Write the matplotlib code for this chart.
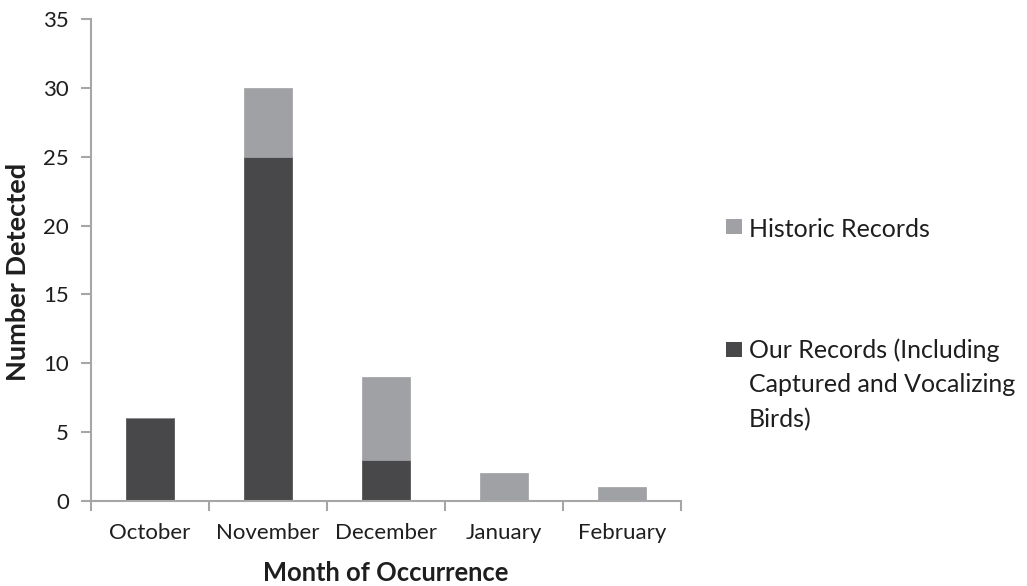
import matplotlib
matplotlib.use("Agg")
import matplotlib.pyplot as plt
import numpy as np
from matplotlib.patches import Rectangle

months = ["October", "November", "December", "January", "February"]
our_records = [6, 25, 3, 0, 0]
historic_records = [0, 5, 6, 2, 1]
y_ticks = [0, 5, 10, 15, 20, 25, 30, 35]
legend_labels = ["Historic Records",
                 "Our Records (Including\nCaptured and Vocalizing\nBirds)"]

dark = "#48484a"
light = "#a0a1a4"
axis_col = "#a6a6a6"
text_col = "#1e1e1e"

plt.rcParams['font.family'] = ['Lato', 'DejaVu Sans']

fig = plt.figure(figsize=(10.27, 5.86), dpi=100)
ax = fig.add_axes([0.0886, 0.145, 0.5745, 0.8226])

x = np.arange(len(months))
ax.bar(x, our_records, width=0.4, color=dark, edgecolor=dark, linewidth=0.5)
ax.bar(x, historic_records, width=0.4, bottom=our_records, color=light,
       edgecolor=light, linewidth=0.5)

ax.set_xlim(-0.5, len(months) - 0.5)
ax.set_ylim(0, 35)
ax.set_yticks(y_ticks)
ax.set_yticklabels([str(v) for v in y_ticks], fontsize=16, color=text_col)

ax.set_xticks(x)
ax.set_xticklabels(months, fontsize=16, color=text_col)
ax.tick_params(axis='x', length=0, pad=16)
ax.set_xticks(np.arange(-0.5, len(months)), minor=True)
ax.tick_params(axis='x', which='minor', length=7, color=axis_col, width=1.5, direction='out')
ax.tick_params(axis='y', length=7, color=axis_col, width=1.5, direction='out', pad=9)

for s in ["top", "right"]:
    ax.spines[s].set_visible(False)
for s in ["left", "bottom"]:
    ax.spines[s].set_color(axis_col)
    ax.spines[s].set_linewidth(1.5)

ax.set_ylabel("Number Detected", fontsize=19.5, fontweight='bold', color=text_col)
ax.yaxis.set_label_coords(-0.104, 0.475)
ax.set_xlabel("Month of Occurrence", fontsize=18.4, fontweight='bold', color=text_col)
ax.xaxis.set_label_coords(0.5, -0.124)

# legend drawn in figure coordinates
fig.patches.append(Rectangle((0.707, 0.600), 0.0155, 0.0255, transform=fig.transFigure,
                             facecolor=light, edgecolor='none'))
fig.text(0.729, 0.609, legend_labels[0], fontsize=18, va='center', ha='left', color=text_col)
fig.patches.append(Rectangle((0.707, 0.391), 0.0155, 0.0255, transform=fig.transFigure,
                             facecolor=dark, edgecolor='none'))
fig.text(0.729, 0.423, legend_labels[1], fontsize=18, va='top', ha='left',
         color=text_col, linespacing=1.6)

fig.savefig("out.png", dpi=100)
